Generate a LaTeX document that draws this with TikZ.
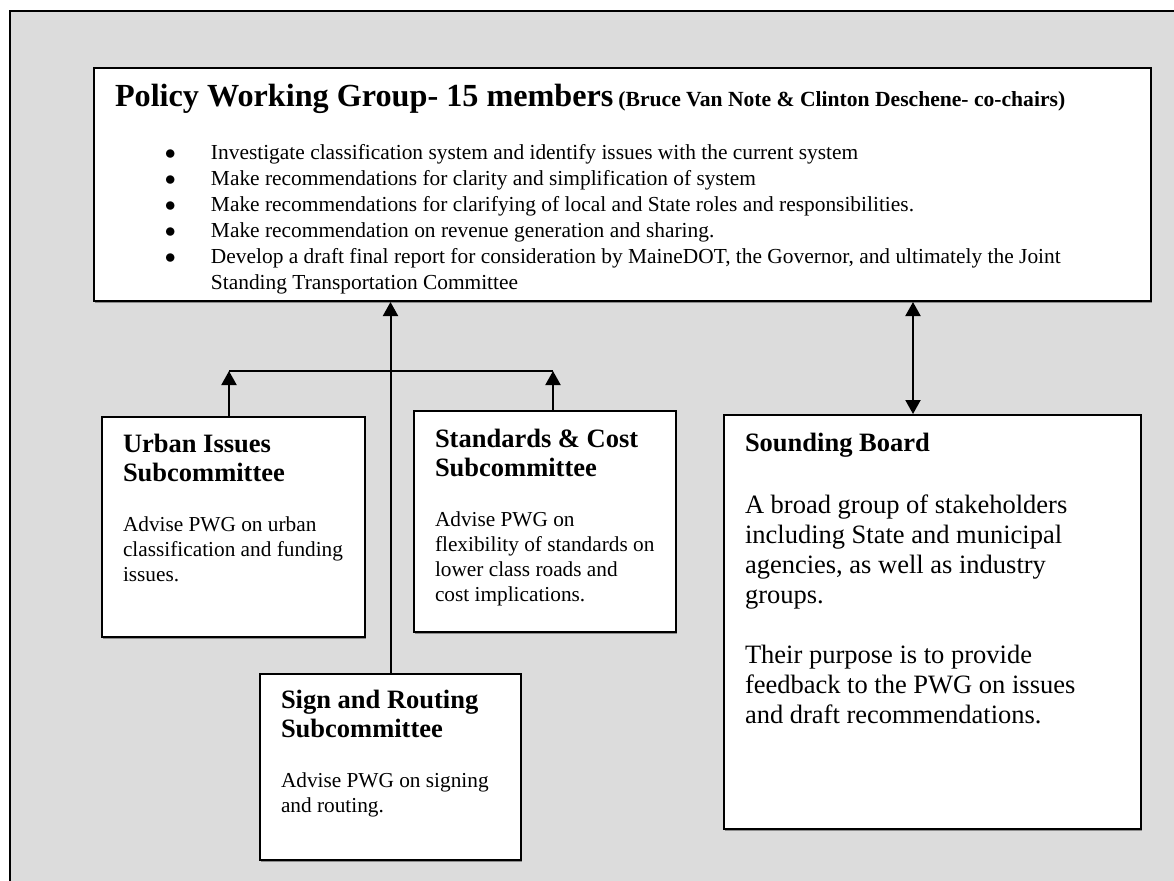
\documentclass[tikz,border=0pt]{standalone}
\usepackage{fontspec}
\setmainfont{Liberation Serif}
\usetikzlibrary{arrows.meta,calc,shadows}
\definecolor{panelgray}{HTML}{DCDCDC}
\newcommand{\titlefont}{\fontsize{16.1}{18}\selectfont\bfseries}
\newcommand{\parenfont}{\fontsize{10.8}{13}\selectfont\bfseries}
\newcommand{\listfont}{\fontsize{10.7}{13}\selectfont}
\newcommand{\bodyfont}{\fontsize{10.65}{12.5}\selectfont}
\newcommand{\headfont}{\fontsize{13.25}{14.5}\selectfont\bfseries}
\newcommand{\sbfont}{\fontsize{13.25}{15}\selectfont}
\newcommand{\bul}[1]{\hspace*{25pt}\makebox[23pt][l]{$\bullet$}#1}
\newcommand{\boxtext}[3]{\begin{minipage}[t][#2][t]{#1}\raggedright\leftskip=10.5pt\parindent=0pt\parskip=0pt #3\end{minipage}}

\begin{document}
\begin{tikzpicture}[x=0.5pt,y=-0.5pt,
	box/.style={draw, fill=white, line width=1pt, anchor=north west, inner sep=0pt,
		drop shadow={shadow xshift=0.4pt, shadow yshift=-0.8pt, fill=black!45, opacity=1}},
	conn/.style={line width=1pt, -{Triangle[length=7pt,width=7.5pt]}},
	both/.style={line width=1pt, {Triangle[length=7pt,width=7.5pt]}-{Triangle[length=7pt,width=7.5pt]}}]
	\useasboundingbox (0,0) rectangle (1174,880);
	\draw[line width=1.2pt, fill=panelgray] (10,11) rectangle (1190,900);
	
	% policy working group
	\node[box] (pwg) at (93,67) {\boxtext{528.5pt}{116.5pt}{%
		\rule{0pt}{19pt}{\titlefont Policy Working Group- 15 members} {\parenfont (Bruce Van Note \& Clinton Deschene- co-chairs)}\par
		\vspace{13.5pt}
		{\listfont
		\bul{Investigate classification system and identify issues with the current system}\par
		\bul{Make recommendations for clarity and simplification of system}\par
		\bul{Make recommendations for clarifying of local and State roles and responsibilities.}\par
		\bul{Make recommendation on revenue generation and sharing.}\par
		\bul{Develop a draft final report for consideration by MaineDOT, the Governor, and ultimately the Joint}\\
		\hspace*{48pt}Standing Transportation Committee\par}}};
	
	% subcommittees
	\node[box] (urban) at (101,416) {\boxtext{131.5pt}{110pt}{%
		\rule{0pt}{17.5pt}{\headfont Urban Issues\\Subcommittee\par}
		\vspace{12.5pt}
		{\bodyfont Advise PWG on urban\\classification and funding\\issues.\par}}};
	\node[box] (cost) at (413,410) {\boxtext{131pt}{110.5pt}{%
		\rule{0pt}{18pt}{\headfont Standards \& Cost\\Subcommittee\par}
		\vspace{12.5pt}
		{\bodyfont Advise PWG on\\flexibility of standards on\\lower class roads and\\cost implications.\par}}};
	\node[box] (sign) at (259,673) {\boxtext{130.5pt}{93pt}{%
		\rule{0pt}{17pt}{\headfont Sign and Routing\\Subcommittee\par}
		\vspace{12.5pt}
		{\bodyfont Advise PWG on signing\\and routing.\par}}};
	
	% sounding board
	\node[box] (board) at (723,414) {\boxtext{208.5pt}{207pt}{%
		\rule{0pt}{18pt}{\headfont Sounding Board\par}
		\vspace{16pt}
		{\sbfont A broad group of stakeholders\\including State and municipal\\agencies, as well as industry\\groups.\par
		\vspace{15pt}
		Their purpose is to provide\\feedback to the PWG on issues\\and draft recommendations.\par}}};
	
	% connectors
	\coordinate (bar) at (0,371);
	\coordinate (ua) at ([xshift=-2.25pt]urban.north);
	\coordinate (ca) at ([xshift=4pt]cost.north);
	\coordinate (ba) at ([xshift=-9.75pt]board.north);
	\draw[line width=1pt] (ua |- bar) -- (ca |- bar);
	\draw[conn] (ua) -- (ua |- bar);
	\draw[conn] (ca) -- (ca |- bar);
	\draw[conn] (sign.north) -- (sign.north |- pwg.south);
	\draw[both] (ba) -- (ba |- pwg.south);
\end{tikzpicture}
\end{document}
